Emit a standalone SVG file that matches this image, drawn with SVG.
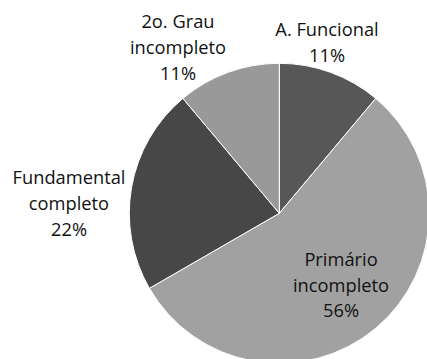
<svg xmlns="http://www.w3.org/2000/svg" width="427" height="359" viewBox="0 0 427 359">
<style>
.s{stroke:#ffffff;stroke-width:1;stroke-linejoin:round}
.t{font-family:"Open Sans","Liberation Sans",Arial,sans-serif;font-size:18.3px;fill:#111;text-anchor:middle}
</style>
<rect width="427" height="359" fill="#ffffff"/>
<g id="slice-funcional"><path class="s" fill="#575757" d="M279.3 213.3 L279.3 63.3 A150 150 0 0 1 375.72 98.4 Z"/></g>
<g id="slice-primario"><path class="s" fill="#a1a1a1" d="M279.3 213.3 L375.72 98.4 A150 150 0 1 1 149.4 288.3 Z"/></g>
<g id="slice-fundamental"><path class="s" fill="#474747" d="M279.3 213.3 L149.4 288.3 A150 150 0 0 1 182.88 98.4 Z"/></g>
<g id="slice-2grau"><path class="s" fill="#999999" d="M279.3 213.3 L182.88 98.4 A150 150 0 0 1 279.3 63.3 Z"/></g>
<g id="label-funcional" class="t"><text x="327" y="36">A. Funcional</text><text x="327" y="62">11%</text></g>
<g id="label-2grau" class="t"><text x="178" y="28">2o. Grau</text><text x="178" y="54">incompleto</text><text x="178" y="80">11%</text></g>
<g id="label-fundamental" class="t"><text x="69" y="184">Fundamental</text><text x="69" y="210">completo</text><text x="69" y="236">22%</text></g>
<g id="label-primario" class="t"><text x="341" y="266">Primário</text><text x="341" y="291.5">incompleto</text><text x="341" y="317">56%</text></g>
</svg>
